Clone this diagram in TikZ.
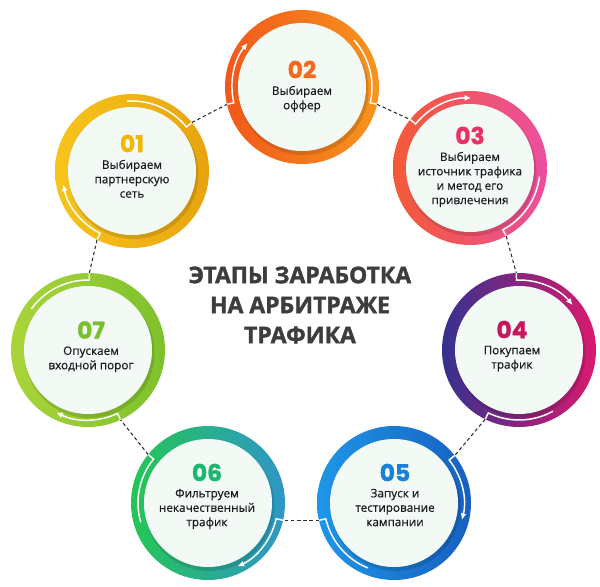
\documentclass[tikz,border=0pt]{standalone}
\usepackage{fontspec}
\setmainfont{Open Sans}[UprightFeatures={FakeBold=0.5}]
\newfontfamily\numfont{Poppins}[BoldFeatures={FakeBold=1.2}]
\newfontfamily\headfont{Open Sans}[BoldFeatures={FakeBold=1.6}]
\usetikzlibrary{arrows.meta,positioning}

\definecolor{diskfill}{HTML}{F3FAF6}
\definecolor{linkgray}{HTML}{2E2E2E}
\definecolor{textblack}{HTML}{1C1C1C}
\definecolor{headgray}{HTML}{3D3D3D}
\definecolor{goldA}{HTML}{F7C41C}
\definecolor{goldB}{HTML}{E8A40E}
\definecolor{goldN}{HTML}{F2B705}
\definecolor{orangeA}{HTML}{F2571B}
\definecolor{orangeB}{HTML}{F7951D}
\definecolor{orangeN}{HTML}{F26A1E}
\definecolor{coralA}{HTML}{F45A35}
\definecolor{coralB}{HTML}{EB4FA0}
\definecolor{coralN}{HTML}{E83165}
\definecolor{plumA}{HTML}{35318F}
\definecolor{plumB}{HTML}{DA1A6E}
\definecolor{plumN}{HTML}{C8175E}
\definecolor{blueA}{HTML}{1E96E8}
\definecolor{blueB}{HTML}{1760C0}
\definecolor{blueN}{HTML}{1A7FD6}
\definecolor{tealA}{HTML}{24C654}
\definecolor{tealB}{HTML}{2E96C8}
\definecolor{tealN}{HTML}{1CB770}
\definecolor{limeA}{HTML}{A9D43A}
\definecolor{limeB}{HTML}{7EC12C}
\definecolor{limeN}{HTML}{79BF2E}

\tikzset{every picture/.style={line width=0.75pt}}
\tikzset{
	ring/.style={circle,minimum size=115.5pt,inner sep=0pt,outer sep=0pt},
	disk/.style={fill=diskfill},
	diskshadow/.style={fill=black,opacity=0.12},
	dashlink/.style={draw=linkgray,line width=0.8pt,dash pattern=on 2.6pt off 2pt},
	flowline/.style={draw=white,line width=1.1pt},
	flowarrow/.style={flowline,-{Latex[length=5pt,width=4.5pt]}},
	stepnum/.style={inner sep=0pt,font=\numfont\bfseries\fontsize{17.5}{17.5}\selectfont},
	steptext/.style={inner sep=0pt,align=center,text=textblack,font=\fontsize{8.8}{10.8}\selectfont},
	headline/.style={inner sep=0pt,align=center,text=headgray,font=\headfont\bfseries\fontsize{17.2}{22.5}\selectfont}
}

\begin{document}
\begin{tikzpicture}[x=0.75pt,y=0.75pt,yscale=-1,xscale=1]

		\fill[white] (0,0) rectangle (600,586);
		\useasboundingbox (0,0) rectangle (600,586);

		\node[ring, left color=goldA, right color=goldB] (s01) at (132,171) {};
		\node[ring, left color=orangeA, right color=orangeB] (s02) at (302,87) {};
		\node[ring, left color=coralA, right color=coralB] (s03) at (470,168) {};
		\node[ring, left color=plumA, right color=plumB] (s04) at (519,350) {};
		\node[ring, left color=blueA, right color=blueB] (s05) at (394,503) {};
		\node[ring, left color=tealA, right color=tealB] (s06) at (208,503) {};
		\node[ring, left color=limeA, right color=limeB] (s07) at (88,350) {};

		\fill[diskshadow] ([shift={(1.5,3)}]s01.center) circle[radius=65];
		\fill[diskshadow] ([shift={(1.5,3)}]s02.center) circle[radius=65];
		\fill[diskshadow] ([shift={(1.5,3)}]s03.center) circle[radius=65];
		\fill[diskshadow] ([shift={(1.5,3)}]s04.center) circle[radius=65];
		\fill[diskshadow] ([shift={(1.5,3)}]s05.center) circle[radius=65];
		\fill[diskshadow] ([shift={(1.5,3)}]s06.center) circle[radius=65];
		\fill[diskshadow] ([shift={(1.5,3)}]s07.center) circle[radius=65];

		\fill[disk] (s01.center) circle[radius=64];
		\fill[disk] (s02.center) circle[radius=64];
		\fill[disk] (s03.center) circle[radius=64];
		\fill[disk] (s04.center) circle[radius=64];
		\fill[disk] (s05.center) circle[radius=64];
		\fill[disk] (s06.center) circle[radius=64];
		\fill[disk] (s07.center) circle[radius=64];

		\draw[flowline] (s01.39) -- ([shift={(-39:70)}]s01.center) arc[start angle=-39, end angle=-94, radius=70];
		\draw[flowarrow] (s01.243) -- ([shift={(-243:70)}]s01.center) arc[start angle=-243, end angle=-191, radius=70];
		\draw[flowline] (s02.-13) -- ([shift={(13:70)}]s02.center) arc[start angle=13, end angle=-42, radius=70];
		\draw[flowarrow] (s02.193) -- ([shift={(-193:70)}]s02.center) arc[start angle=-193, end angle=-141, radius=70];
		\draw[flowline] (s03.-62) -- ([shift={(62:70)}]s03.center) arc[start angle=62, end angle=7, radius=70];
		\draw[flowarrow] (s03.141) -- ([shift={(-141:70)}]s03.center) arc[start angle=-141, end angle=-89, radius=70];
		\draw[flowline] (s04.-116) -- ([shift={(116:70)}]s04.center) arc[start angle=116, end angle=61, radius=70];
		\draw[flowarrow] (s04.92) -- ([shift={(-92:70)}]s04.center) arc[start angle=-92, end angle=-40, radius=70];
		\draw[flowline] (s05.193) -- ([shift={(-193:70)}]s05.center) arc[start angle=-193, end angle=-248, radius=70];
		\draw[flowarrow] (s05.38) -- ([shift={(-38:70)}]s05.center) arc[start angle=-38, end angle=14, radius=70];
		\draw[flowline] (s06.141) -- ([shift={(-141:70)}]s06.center) arc[start angle=-141, end angle=-196, radius=70];
		\draw[flowarrow] (s06.-13) -- ([shift={(13:70)}]s06.center) arc[start angle=13, end angle=65, radius=70];
		\draw[flowline] (s07.89) -- ([shift={(-89:70)}]s07.center) arc[start angle=-89, end angle=-144, radius=70];
		\draw[flowarrow] (s07.295) -- ([shift={(-295:70)}]s07.center) arc[start angle=-295, end angle=-243, radius=70];

		\draw[dashlink] (s01.39) -- (s02.193);
		\draw[dashlink] (s02.-13) -- (s03.141);
		\draw[dashlink] (s03.-62) -- (s04.92);
		\draw[dashlink] (s04.-116) -- (s05.38);
		\draw[dashlink] (s05.193) -- (s06.-13);
		\draw[dashlink] (s06.141) -- (s07.295);
		\draw[dashlink] (s07.89) -- (s01.243);

		\node[stepnum, text=goldN] (n01) at (132,143.5) {01};
		\node[steptext, below=5pt of n01] (t01) {Выбираем\\партнерскую\\сеть};
		\node[stepnum, text=orangeN] (n02) at (302,69.5) {02};
		\node[steptext, below=5pt of n02] (t02) {Выбираем\\оффер};
		\node[stepnum, text=coralN] (n03) at (470,135.5) {03};
		\node[steptext, below=5pt of n03] (t03) {Выбираем\\источник трафика\\и метод его\\привлечения};
		\node[stepnum, text=plumN] (n04) at (512,329.5) {04};
		\node[steptext, below=5pt of n04] (t04) {Покупаем\\трафик};
		\node[stepnum, text=blueN] (n05) at (395,472.5) {05};
		\node[steptext, below=5pt of n05] (t05) {Запуск и\\тестирование\\кампании};
		\node[stepnum, text=tealN] (n06) at (207,472.5) {06};
		\node[steptext, below=5pt of n06] (t06) {Фильтруем\\некачественный\\трафик};
		\node[stepnum, text=limeN] (n07) at (91,330) {07};
		\node[steptext, below=5pt of n07] (t07) {Опускаем\\входной порог};

		\node[headline] (head) at (300,305) {ЭТАПЫ ЗАРАБОТКА\\НА АРБИТРАЖЕ\\ТРАФИКА};

\end{tikzpicture}
\end{document}
